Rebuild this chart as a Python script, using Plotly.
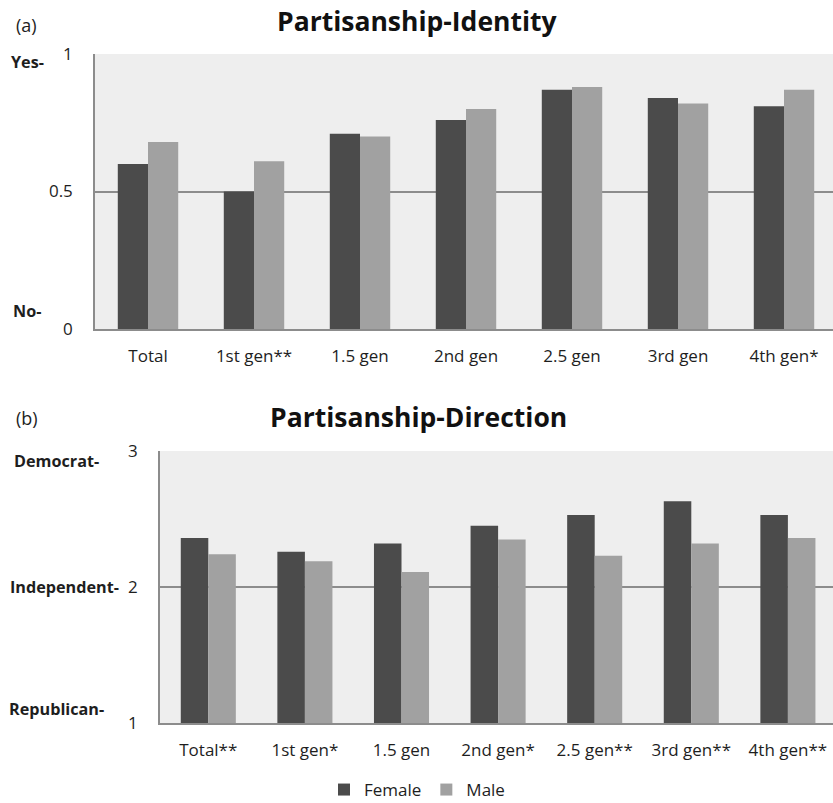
import plotly.graph_objects as go

W, H = 833, 803

# Panel (a): partisanship identity (0 = No, 1 = Yes)
identity_cats = ["Total", "1st gen**", "1.5 gen", "2nd gen", "2.5 gen", "3rd gen", "4th gen*"]
identity_female = [0.60, 0.50, 0.71, 0.76, 0.87, 0.84, 0.81]
identity_male = [0.68, 0.61, 0.70, 0.80, 0.88, 0.82, 0.87]
identity_ticks = [0, 0.5, 1]
identity_tick_text = ["0", "0.5", "1"]

# Panel (b): partisanship direction (1 = Republican, 2 = Independent, 3 = Democrat)
direction_cats = ["Total**", "1st gen*", "1.5 gen", "2nd gen*", "2.5 gen**", "3rd gen**", "4th gen**"]
direction_female = [2.36, 2.26, 2.32, 2.45, 2.53, 2.63, 2.53]
direction_male = [2.24, 2.19, 2.11, 2.35, 2.23, 2.32, 2.36]
direction_ticks = [1, 2, 3]
direction_tick_text = ["1", "2", "3"]

FEMALE = "#4b4b4b"
MALE = "#a1a1a1"
GRID = "#8c8c8c"
PLOT_BG = "#eeeeee"
FONT = "Open Sans"
TEXT = "#1e1e1e"


def px_x(p):
    return p / W


def px_y(p):
    return 1 - p / H


fig = go.Figure()

fig.add_trace(go.Bar(x=identity_cats, y=identity_female, name="Female",
                     marker=dict(color=FEMALE, line=dict(width=0)),
                     xaxis="x", yaxis="y", legendgroup="f"))
fig.add_trace(go.Bar(x=identity_cats, y=identity_male, name="Male",
                     marker=dict(color=MALE, line=dict(width=0)),
                     xaxis="x", yaxis="y", legendgroup="m"))
fig.add_trace(go.Bar(x=direction_cats, y=direction_female, name="Female",
                     marker=dict(color=FEMALE, line=dict(width=0)),
                     xaxis="x2", yaxis="y2", legendgroup="f", showlegend=False,
                     base=0))
fig.add_trace(go.Bar(x=direction_cats, y=direction_male, name="Male",
                     marker=dict(color=MALE, line=dict(width=0)),
                     xaxis="x2", yaxis="y2", legendgroup="m", showlegend=False,
                     base=0))

tick_font = dict(family=FONT, size=17, color=TEXT)

common_x = dict(type="category", showgrid=False, showline=True, linecolor=GRID,
                linewidth=1.5, ticks="", tickfont=tick_font, ticklabelstandoff=11,
                fixedrange=True)
common_y = dict(showgrid=True, gridcolor=GRID, gridwidth=1.5, showline=True,
                linecolor=GRID, linewidth=1.5, ticks="", tickfont=tick_font,
                zeroline=False, ticklabelstandoff=17, fixedrange=True)

fig.update_layout(
    width=W, height=H,
    margin=dict(l=0, r=0, t=0, b=0, autoexpand=False),
    paper_bgcolor="white",
    plot_bgcolor=PLOT_BG,
    barmode="group",
    bargap=0.43,
    bargroupgap=0,
    font=dict(family=FONT, color=TEXT),
    xaxis=dict(common_x, domain=[px_x(95), 1], anchor="y",
               range=[-0.5, -0.5 + (W - 95) / 106.0]),
    yaxis=dict(common_y, domain=[px_y(329), px_y(54)], anchor="x",
               range=[0, 1], tickvals=identity_ticks, ticktext=identity_tick_text),
    xaxis2=dict(common_x, domain=[px_x(160), 1], anchor="y2",
                range=[-0.5, -0.5 + (W - 160) / 96.6]),
    yaxis2=dict(common_y, domain=[px_y(723), px_y(451)], anchor="x2",
                range=[1, 3], tickvals=direction_ticks, ticktext=direction_tick_text),
    legend=dict(orientation="h", x=px_x(417), y=px_y(790), xanchor="center",
                yanchor="middle", font=dict(family=FONT, size=17, color=TEXT),
                itemwidth=30, bgcolor="rgba(0,0,0,0)"),
    showlegend=True,
)

label_font = dict(family=FONT, size=16.2, color=TEXT)
title_font = dict(family=FONT, size=26.5, color="#111111")
panel_font = dict(family=FONT, size=18, color=TEXT)

annotations = [
    dict(text="(a)", x=px_x(14), y=px_y(25), xanchor="left", yanchor="middle", font=panel_font),
    dict(text="(b)", x=px_x(14), y=px_y(418), xanchor="left", yanchor="middle", font=panel_font),
    dict(text="<b>Partisanship-Identity</b>", x=px_x(417), y=px_y(21),
         xanchor="center", yanchor="middle", font=title_font),
    dict(text="<b>Partisanship-Direction</b>", x=px_x(418), y=px_y(417),
         xanchor="center", yanchor="middle", font=title_font),
    dict(text="<b>Yes-</b>", x=px_x(9), y=px_y(62), xanchor="left", yanchor="middle", font=label_font),
    dict(text="<b>No-</b>", x=px_x(11), y=px_y(311), xanchor="left", yanchor="middle", font=label_font),
    dict(text="<b>Democrat-</b>", x=px_x(12), y=px_y(461), xanchor="left", yanchor="middle", font=label_font),
    dict(text="<b>Independent-</b>", x=px_x(8), y=px_y(587), xanchor="left", yanchor="middle", font=label_font),
    dict(text="<b>Republican-</b>", x=px_x(7), y=px_y(709), xanchor="left", yanchor="middle", font=label_font),
]
for a in annotations:
    a.update(xref="paper", yref="paper", showarrow=False)
fig.update_layout(annotations=annotations)

fig.write_html("out.html")
